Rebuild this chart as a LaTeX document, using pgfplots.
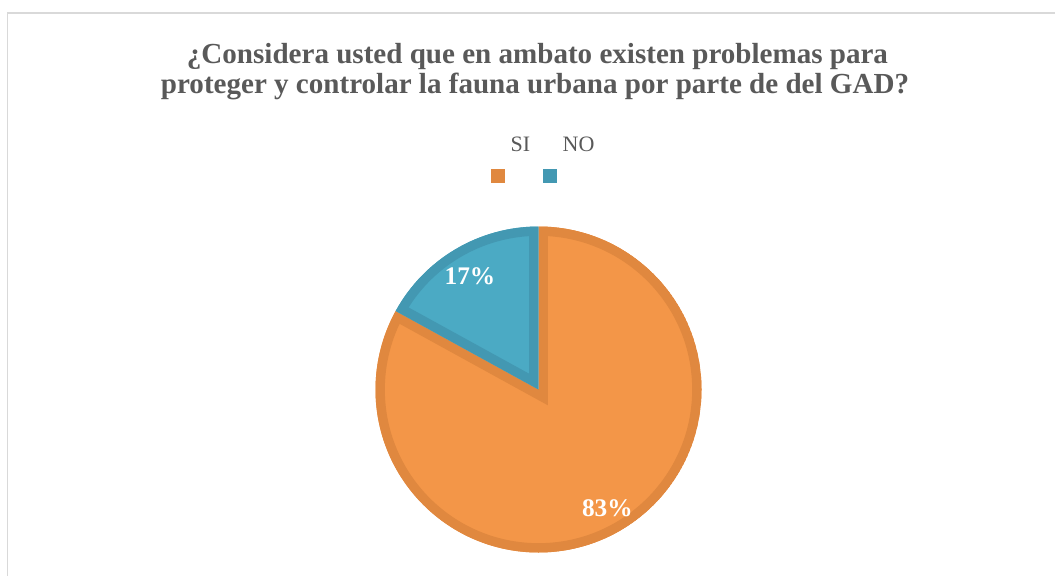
\documentclass[border=0pt]{standalone}
\usepackage{pgfplots}
\pgfplotsset{compat=1.18}
\usepackage{pgfplotstable}
\usepackage{fontspec}
\setmainfont{Liberation Serif}

\definecolor{siFill}{RGB}{243,150,72}
\definecolor{siLine}{RGB}{224,136,63}
\definecolor{noFill}{RGB}{75,170,196}
\definecolor{noLine}{RGB}{67,152,178}
\definecolor{txtgray}{RGB}{89,89,89}
\definecolor{frame}{RGB}{217,217,217}

% pie data (percent)
\pgfplotstableread{
label value
SI 83
NO 17
}\piedata

\newcommand\slice[2]{(axis cs:0,0) -- ++(#1:\R) arc[start angle=#1, end angle=#2, radius=\R] -- cycle}

\begin{document}
\begin{tikzpicture}[x=0.75pt, y=0.75pt]
\pgfplotstablegetelem{0}{value}\of\piedata \let\vSI\pgfplotsretval
\pgfplotstablegetelem{1}{value}\of\piedata \let\vNO\pgfplotsretval
% Excel style: start at 12 o'clock, clockwise
\pgfmathsetmacro\aA{90}
\pgfmathsetmacro\aB{90-3.6*\vSI}
\pgfmathsetmacro\aC{\aB-3.6*\vNO}
\pgfmathsetmacro\mA{(\aA+\aB)/2}
\pgfmathsetmacro\mB{(\aB+\aC)/2}
\def\R{122.25pt}

\useasboundingbox (0,0) rectangle (1055,575);
\clip (0,0) rectangle (1055,575);
% chart frame (cut at right and bottom)
\draw[frame, line width=1.2pt] (7.5,-20) -- (7.5,562) -- (1080,562);

% title
\node[anchor=base, text=txtgray, font=\fontsize{21.8}{24}\selectfont\bfseries]
  at (537.5,511) {¿Considera usted que en ambato existen problemas para};
\node[anchor=base, text=txtgray, font=\fontsize{21.8}{24}\selectfont\bfseries]
  at (535,481.5) {proteger y controlar la fauna urbana por parte de del GAD?};

% legend: text above marker
\node[anchor=base, text=txtgray, font=\fontsize{16.5}{18}\selectfont] at (520.5,423) {SI};
\node[anchor=base, text=txtgray, font=\fontsize{16.5}{18}\selectfont] at (578.5,423) {NO};
\fill[siLine] (490.5,392) rectangle ++(14,14);
\fill[noLine] (543,392) rectangle ++(14,14);

\begin{axis}[
    at={(403.875pt,139.125pt)}, anchor=center,
    width=244.5pt, height=244.5pt, scale only axis,
    xmin=-1, xmax=1, ymin=-1, ymax=1,
    hide axis, clip=false,
]
\begin{scope}
  \clip \slice{\aA}{\aB};
  \fill[siFill] \slice{\aA}{\aB};
  \draw[siLine, line width=14pt] \slice{\aA}{\aB};
\end{scope}
\begin{scope}
  \clip \slice{\aB}{\aC};
  \fill[noFill] \slice{\aB}{\aC};
  \draw[noLine, line width=14pt] \slice{\aB}{\aC};
\end{scope}
\path (axis cs:0,0) ++(\mA:101.5pt) node[yshift=-1.8pt, text=white, font=\fontsize{19}{20}\selectfont\bfseries] {\vSI\%};
\path (axis cs:0,0) ++(\mB:101pt) node[yshift=-1.8pt, text=white, font=\fontsize{19}{20}\selectfont\bfseries] {\vNO\%};
\end{axis}
\end{tikzpicture}
\end{document}
